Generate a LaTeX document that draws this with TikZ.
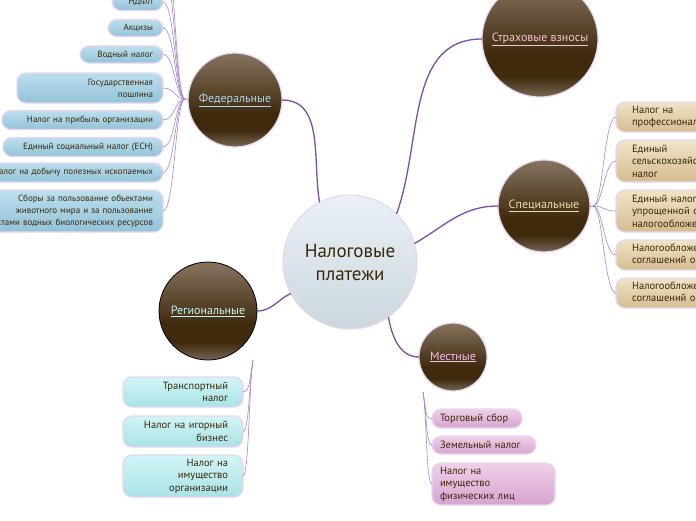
\documentclass[tikz,border=0pt]{standalone}
\usepackage{fontspec}
\setmainfont{PT Sans}

\definecolor{linkpurple}{HTML}{7B4FA8}
\definecolor{twigpurple}{HTML}{A688CC}
\definecolor{rimcol}{HTML}{E6D6F0}
\definecolor{textbrown}{HTML}{3A2808}
\definecolor{ballTop}{HTML}{877460}
\definecolor{ballDark}{HTML}{3F2A0E}
\definecolor{ballLow}{HTML}{786654}
\definecolor{hubTop}{HTML}{E8F1F6}
\definecolor{hubLow}{HTML}{CCD7DD}
\definecolor{fedTop}{HTML}{BCDFEE}
\definecolor{fedLow}{HTML}{93C2D8}
\definecolor{specTop}{HTML}{F0E4C8}
\definecolor{specLow}{HTML}{D5BC90}
\definecolor{regTop}{HTML}{D2F5F7}
\definecolor{regLow}{HTML}{A8E2E6}
\definecolor{locTop}{HTML}{EFD0EA}
\definecolor{locLow}{HTML}{D6A4CF}
\definecolor{fedtxt}{HTML}{A8D6EC}
\definecolor{strtxt}{HTML}{F2C4CE}
\definecolor{spectxt}{HTML}{ECDAA8}
\definecolor{regtxt}{HTML}{C4F2F0}
\definecolor{loctxt}{HTML}{F4BEE6}

\pgfdeclareverticalshading{ballshade}{100bp}{color(0bp)=(ballLow); color(25bp)=(ballLow); color(34bp)=(ballDark); color(43bp)=(ballDark); color(75bp)=(ballTop); color(100bp)=(ballTop)}

\tikzset{
  ball/.style={circle, draw=rimcol, line width=1.2pt, shading=ballshade, inner sep=0pt, outer sep=0pt, font=\fontsize{12}{14}\selectfont},
  hub/.style={circle, draw=rimcol, line width=1pt, top color=hubTop, bottom color=hubLow, minimum size=134pt, inner sep=0pt, outer sep=0pt, align=center, text=textbrown, font=\fontsize{19}{23}\selectfont},
  leaf/.style={rounded corners=9pt, draw=rimcol, line width=1.2pt, inner xsep=10pt, inner ysep=2pt, outer sep=0pt, text=textbrown, font=\fontsize{10.5}{12.5}\selectfont},
  fedleaf/.style={leaf, top color=fedTop, bottom color=fedLow, anchor=east, align=right, font=\fontsize{9}{12}\selectfont},
  specleaf/.style={leaf, top color=specTop, bottom color=specLow, anchor=west, align=left, inner xsep=16pt, text width=190pt},
  regleaf/.style={leaf, top color=regTop, bottom color=regLow, anchor=east, align=right, inner xsep=15pt, text width=90pt},
  locleaf/.style={leaf, top color=locTop, bottom color=locLow, anchor=west, align=left, inner xsep=8pt},
  branch/.style={draw=linkpurple, line width=1.3pt},
  twig/.style={draw=twigpurple, line width=0.6pt}
}

\begin{document}
\begin{tikzpicture}[x=1pt,y=-1pt]
	\clip (0,0) rectangle (696,520);
	\fill[white] (0,0) rectangle (696,520);

	% centre and the five groups
	\node[hub] (nalog) at (350,262) {Налоговые\\платежи};
	\node[ball, minimum size=94pt, text=fedtxt] (fed) at (235,100) {\underline{Федеральные}};
	\node[ball, minimum size=116pt, text=strtxt] (strah) at (540,39) {\underline{Страховые взносы}};
	\node[ball, minimum size=92pt, text=spectxt] (spec) at (544,206) {\underline{Специальные}};
	\node[ball, minimum size=98pt, draw=black, line width=0.8pt, text=regtxt] (reg) at (208,311) {\underline{Региональные}};
	\node[ball, minimum size=68pt, text=loctxt] (loc) at (453,357) {\underline{Местные}};

	\draw[branch] (fed.east) to[out=0,in=100] (nalog.117);
	\draw[branch] (nalog.46) to[out=70,in=180] (strah.west);
	\draw[branch] (nalog.16) to[out=30,in=180] (spec.west);
	\draw[branch] (reg.east) to[out=0,in=205] (nalog.208);
	\draw[branch] (nalog.-55) to[out=-80,in=180] (loc.west);

	% federal
	\node[fedleaf, text width=31pt, minimum height=17pt] (ndfl) at (163,2) {НДФЛ};
	\node[fedleaf, text width=35pt, minimum height=17pt] (akciz) at (163,28) {Акцизы};
	\node[fedleaf, text width=63pt, minimum height=17pt] (vodn) at (163,54.5) {Водный налог};
	\node[fedleaf, text width=126pt, minimum height=30pt] (gosp) at (163,88) {Государственная\\пошлина};
	\node[fedleaf, text width=141pt, minimum height=19pt] (pribyl) at (163,120) {Налог на прибыль организации};
	\node[fedleaf, text width=140pt, minimum height=19pt] (esn) at (163,147) {Единый социальный налог (ЕСН)};
	\node[fedleaf, text width=170pt, minimum height=19pt] (dobycha) at (163,172.5) {Налог на добычу полезных ископаемых};
	\node[fedleaf, text width=210pt, minimum height=42pt] (sbory) at (163,211) {Сборы за пользование объектами\\животного мира и за пользование\\объектами водных биологических ресурсов};
	\coordinate (fedup1) at (163,-30);
	\coordinate (fedup2) at (163,-60);

	\coordinate (fedhub) at (185,99);
	\draw[twig] (fed.west) -- (fedhub);
	\foreach \leaf in {ndfl,akciz,vodn,gosp,pribyl,esn,dobycha,sbory}
		\draw[twig] (fedhub) .. controls +(-10,0) and +(12,0) .. (\leaf.east);
	\foreach \leaf in {fedup1,fedup2}
		\draw[twig] (fedhub) .. controls +(-10,0) and +(12,0) .. (\leaf);

	% special
	\node[specleaf, minimum height=30pt] (prof) at (616,117) {Налог на\\профессиональный доход};
	\node[specleaf, minimum height=42pt] (eshn) at (616,161) {Единый\\сельскохозяйственный\\налог};
	\node[specleaf, minimum height=42pt] (usn) at (616,211) {Единый налог при\\упрощенной системе\\налогообложения};
	\node[specleaf, minimum height=30pt] (srpa) at (616,255) {Налогообложение при выполнении\\соглашений о разделе продукции};
	\node[specleaf, minimum height=30pt] (srpb) at (616,293) {Налогообложение при выполнении\\соглашений о разделе продукции};

	\coordinate (spechub) at (593,206);
	\draw[twig] (spec.east) -- (spechub);
	\foreach \leaf in {prof,eshn,usn,srpa,srpb}
		\draw[twig] (spechub) .. controls +(10,0) and +(-12,0) .. (\leaf.west);

	% regional
	\node[regleaf, minimum height=30pt] (transp) at (243,392) {Транспортный\\налог};
	\node[regleaf, minimum height=31pt] (igorn) at (243,431.5) {Налог на игорный\\бизнес};
	\node[regleaf, minimum height=42pt] (imorg) at (243,476) {Налог на\\имущество\\организации};

	\coordinate (regtop) at (253,360);
	\foreach \leaf in {transp,igorn,imorg}
		\draw[twig] (regtop) .. controls +(-4,25) and +(6,0) .. (\leaf.east);

	% local
	\node[locleaf, text width=74pt, minimum height=19pt] (torg) at (432,418.5) {Торговый сбор};
	\node[locleaf, text width=88pt, minimum height=18pt] (zem) at (432,445) {Земельный налог};
	\node[locleaf, text width=107pt, minimum height=42pt] (imfiz) at (432,484) {Налог на\\имущество\\физических лиц};

	\coordinate (loctop) at (423,392);
	\foreach \leaf in {torg,zem,imfiz}
		\draw[twig] (loctop) .. controls +(4,25) and +(-6,0) .. (\leaf.west);
\end{tikzpicture}
\end{document}
